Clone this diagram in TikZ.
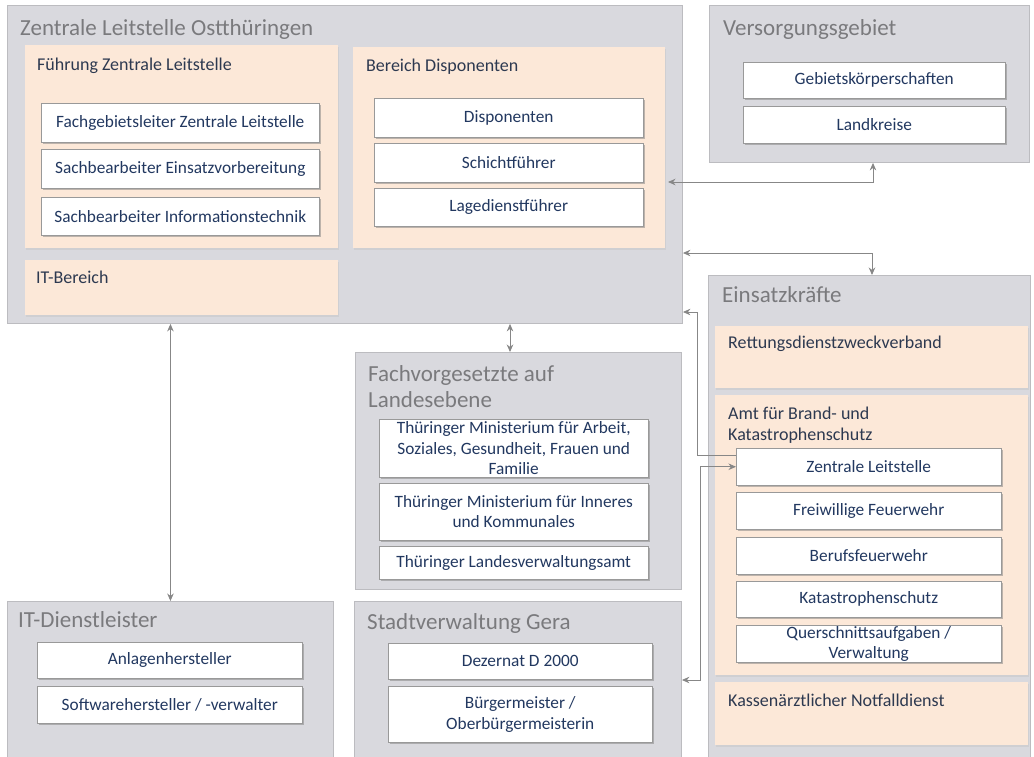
\documentclass[tikz,border=0pt]{standalone}
\usepackage{fontspec}
\setmainfont{Carlito}
\usetikzlibrary{shadows,arrows.meta,calc}
\definecolor{gfill}{RGB}{217,217,222}
\definecolor{gline}{RGB}{188,188,192}
\definecolor{peach}{RGB}{252,232,216}
\definecolor{ttlc}{RGB}{122,122,125}
\definecolor{subc}{RGB}{45,57,80}
\definecolor{wtxt}{RGB}{34,56,96}
\definecolor{arrc}{RGB}{135,135,135}
\begin{document}
\begin{tikzpicture}[x=1pt,y=-1pt,
 area/.style={rectangle, anchor=north west, inner sep=0pt, fill=gfill, draw=gline, line width=0.9pt},
 sect/.style={rectangle, anchor=north west, inner sep=0pt, fill=peach, drop shadow={shadow xshift=1pt, shadow yshift=-1.5pt, fill=black!22}},
 item/.style={rectangle, anchor=north west, inner sep=0pt, fill=white, draw=black!40, line width=0.5pt, drop shadow={shadow xshift=1.3pt, shadow yshift=-2pt, fill=black!50}, font=\fontsize{17.3}{20.5}\selectfont, text=wtxt, align=center},
 ttl/.style={anchor=base west, inner sep=0pt, text=ttlc, font=\fontsize{23}{27}\selectfont},
 stl/.style={anchor=base west, inner sep=0pt, text=subc, font=\fontsize{18}{21}\selectfont},
 con/.style={draw=arrc, line width=0.9pt},
 both/.style={con, {Stealth[length=7.5pt,width=6.5pt]}-{Stealth[length=7.5pt,width=6.5pt]}},
 one/.style={con, -{Stealth[length=7.5pt,width=6.5pt]}}
]
\useasboundingbox (0,0) rectangle (1034,756);
\fill[white] (0,0) rectangle (1034,756);

% ---------- Zentrale Leitstelle Ostthüringen
\node[area, minimum width=675pt, minimum height=318pt] (zlo) at (7,5) {};
\node[ttl] (zlot) at (20,35) {Zentrale Leitstelle Ostthüringen};
\node[sect, minimum width=313pt, minimum height=203pt] (fzl) at (25,45) {};
\node[stl] (fzlt) at (37,70) {Führung Zentrale Leitstelle};
\node[item, minimum width=278pt, minimum height=39pt] (fgl) at (41,103) {Fachgebietsleiter Zentrale Leitstelle};
\node[item, minimum width=278pt, minimum height=39pt] (sbe) at (41,149) {Sachbearbeiter Einsatzvorbereitung};
\node[item, minimum width=278pt, minimum height=38pt] (sbi) at (41,197) {Sachbearbeiter Informationstechnik};
\node[sect, minimum width=313pt, minimum height=55pt] (itb) at (25,260) {};
\node[stl] (itbt) at (36,283) {IT-Bereich};
\node[sect, minimum width=312pt, minimum height=201pt] (bd) at (353,47) {};
\node[stl] (bdt) at (366,71) {Bereich Disponenten};
\node[item, minimum width=269pt, minimum height=39pt] (disp) at (374,98) {Disponenten};
\node[item, minimum width=269pt, minimum height=39pt] (schf) at (374,143) {Schichtführer};
\node[item, minimum width=269pt, minimum height=38pt] (lagf) at (374,188) {Lagedienstführer};

% ---------- Versorgungsgebiet
\node[area, minimum width=320pt, minimum height=157pt] (vg) at (709,5) {};
\node[ttl] (vgt) at (723,35) {Versorgungsgebiet};
\node[item, minimum width=262pt, minimum height=36pt] (gbk) at (743,62) {Gebietskörperschaften};
\node[item, minimum width=262pt, minimum height=37pt] (lkr) at (743,106) {Landkreise};

% ---------- Einsatzkräfte
\node[area, minimum width=322pt, minimum height=490pt] (ek) at (708,275) {};
\node[ttl] (ekt) at (722,302) {Einsatzkräfte};
\node[sect, minimum width=313pt, minimum height=62pt] (rdz) at (715,326) {};
\node[stl] (rdzt) at (728,348) {Rettungsdienstzweckverband};
\node[sect, minimum width=313pt, minimum height=280pt] (abk) at (715,395) {};
\node[stl] (abkt) at (728,419) {Amt für Brand- und};
\node[stl] (abkt2) at (728,440) {Katastrophenschutz};
\node[item, minimum width=265pt, minimum height=37pt] (zl) at (736,448) {Zentrale Leitstelle};
\node[item, minimum width=265pt, minimum height=37pt] (ffw) at (736,492) {Freiwillige Feuerwehr};
\node[item, minimum width=265pt, minimum height=37pt] (bfw) at (736,537) {Berufsfeuerwehr};
\node[item, minimum width=265pt, minimum height=36pt] (kats) at (736,581) {Katastrophenschutz};
\node[item, minimum width=265pt, minimum height=37pt] (qsa) at (736,625) {Querschnittsaufgaben /\\Verwaltung};
\node[sect, minimum width=313pt, minimum height=63pt] (kn) at (715,682) {};
\node[stl] (knt) at (728,706) {Kassenärztlicher Notfalldienst};

% ---------- Fachvorgesetzte
\node[area, minimum width=326pt, minimum height=237pt] (fv) at (355,352) {};
\node[ttl] (fvt) at (368,381) {Fachvorgesetzte auf};
\node[ttl] (fvt2) at (368,407) {Landesebene};
\node[item, minimum width=269pt, minimum height=58pt] (tm1) at (379,419) {Thüringer Ministerium für Arbeit,\\Soziales, Gesundheit, Frauen und\\Familie};
\node[item, minimum width=269pt, minimum height=57pt] (tm2) at (379,483) {Thüringer Ministerium für Inneres\\und Kommunales};
\node[item, minimum width=269pt, minimum height=33pt] (tlv) at (379,546) {Thüringer Landesverwaltungsamt};

% ---------- Stadtverwaltung Gera
\node[area, minimum width=327pt, minimum height=165pt] (sv) at (354,601) {};
\node[ttl] (svt) at (367,629) {Stadtverwaltung Gera};
\node[item, minimum width=264pt, minimum height=36pt] (dez) at (388,643) {Dezernat D 2000};
\node[item, minimum width=264pt, minimum height=56pt] (bgm) at (388,686) {Bürgermeister /\\Oberbürgermeisterin};

% ---------- IT-Dienstleister
\node[area, minimum width=326pt, minimum height=165pt] (itd) at (7,601) {};
\node[ttl] (itdt) at (18,627) {IT-Dienstleister};
\node[item, minimum width=265pt, minimum height=36pt] (anl) at (37,642) {Anlagenhersteller};
\node[item, minimum width=265pt, minimum height=37pt] (swh) at (37,686) {Softwarehersteller / -verwalter};

% ---------- connectors
\coordinate (c1) at (668,182);
\coordinate (c1v) at (873,182);
\draw[both] (c1v |- vg.south) -- (c1v) -- (c1);

\coordinate (c2) at (872,253);
\draw[both] (zlo.east |- c2) -- (c2) -- (c2 |- ek.north);

\coordinate (c3) at (697,312);
\draw[one] ([yshift=11.5pt]zl.west) -| (c3) -- (zlo.east |- c3);

\coordinate (c4) at (700,680);
\draw[both] (zl.west) -| (c4) -- (sv.east |- c4);

\coordinate (c5) at (510,0);
\draw[both] (c5 |- zlo.south) -- (c5 |- fv.north);

\draw[both] (itd.north |- zlo.south) -- (itd.north);
\end{tikzpicture}
\end{document}
